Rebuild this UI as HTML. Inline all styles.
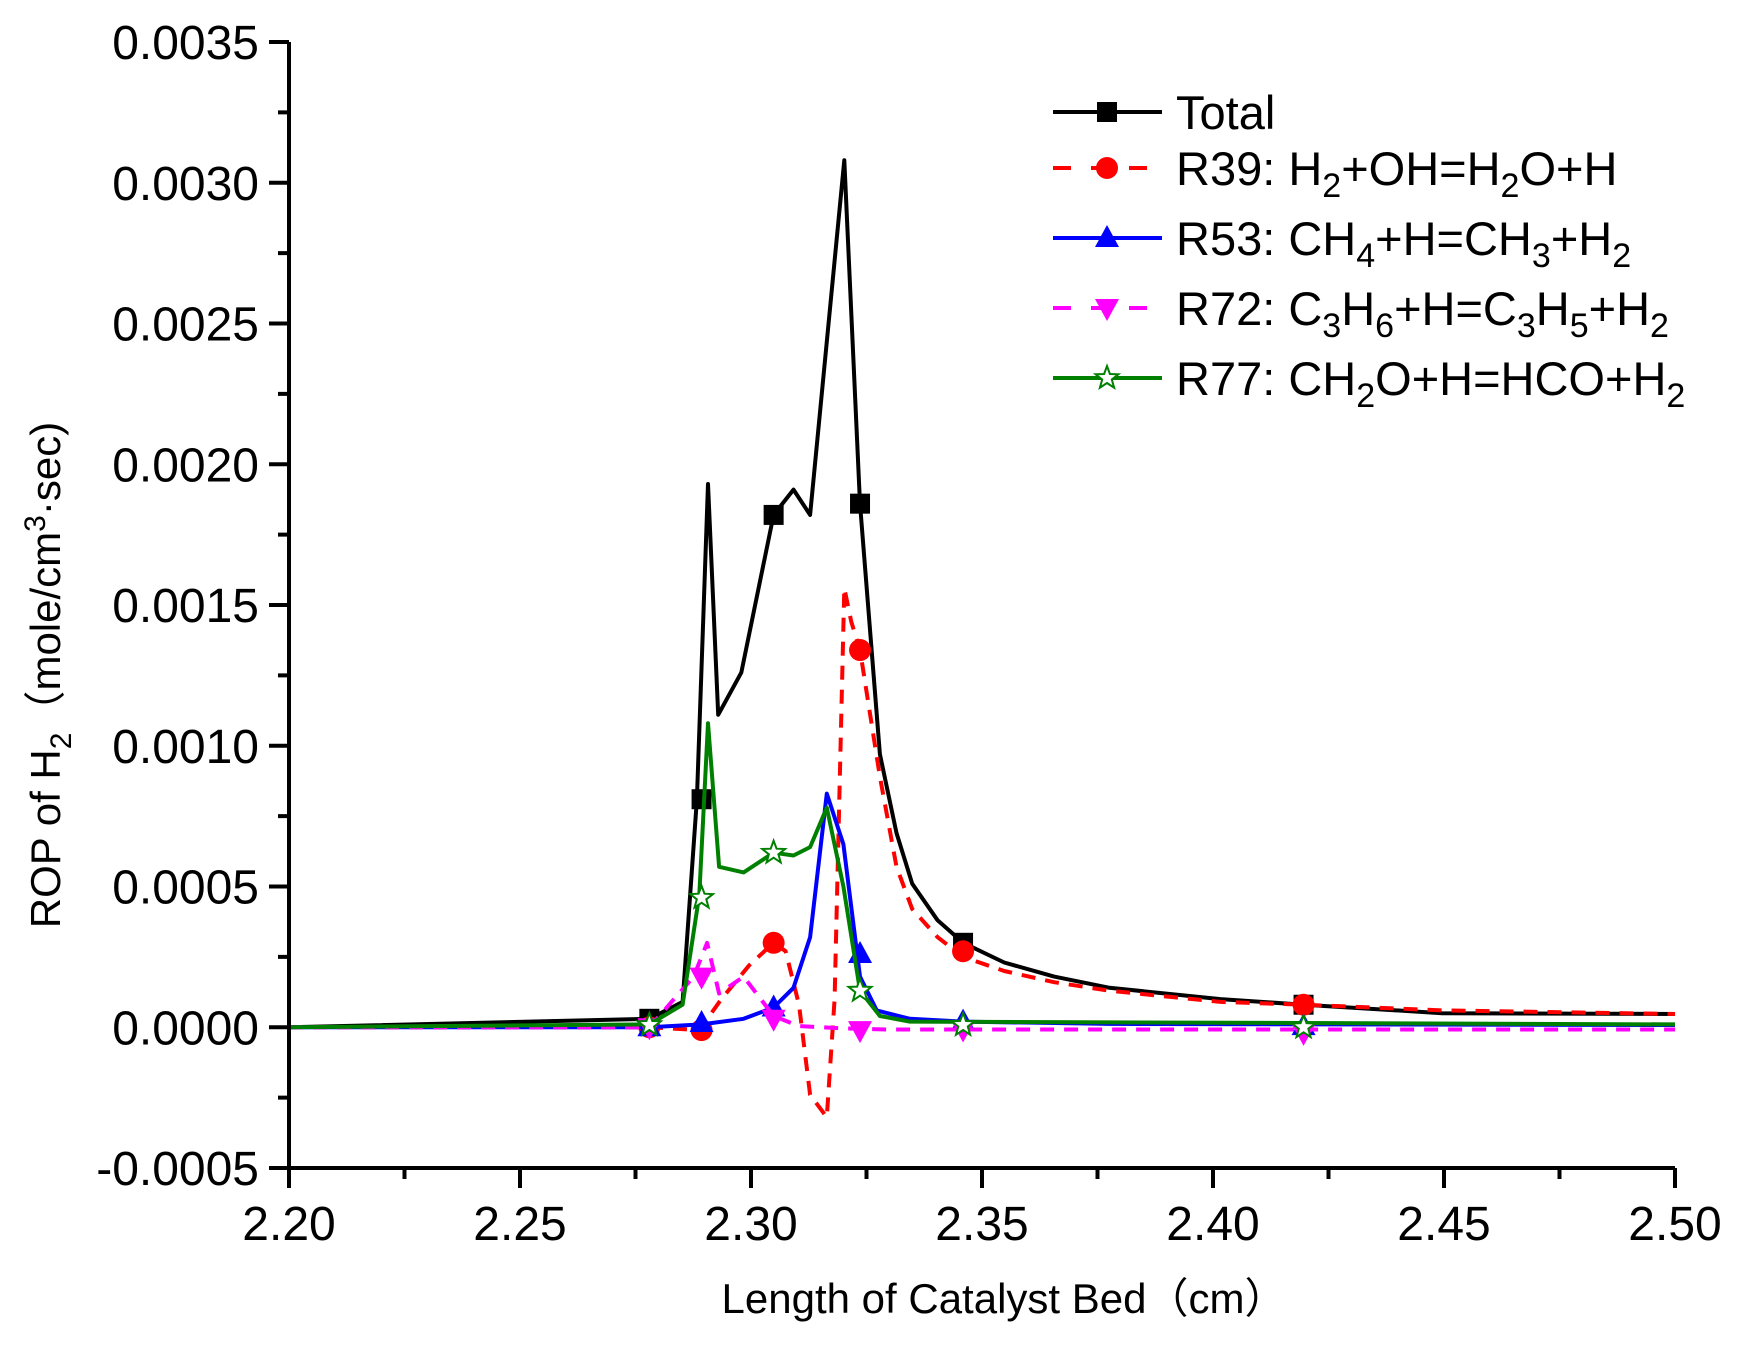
<!DOCTYPE html>
<html><head><meta charset="utf-8"><style>
html,body{margin:0;padding:0;background:#fff;}
svg{display:block;font-family:"Liberation Sans",Arial,sans-serif;}
</style></head><body>
<svg id="chart" width="1740" height="1345" viewBox="0 0 1740 1345" xmlns="http://www.w3.org/2000/svg">
<g id="grid"></g>
<g id="series"></g>
<g id="axes"></g>
<text x="1004" y="1313" font-size="42" text-anchor="middle">Length of Catalyst Bed（cm）</text>
<text transform="translate(60,675) rotate(-90)" font-size="42" text-anchor="middle">ROP of H<tspan font-size="30" dy="11">2</tspan><tspan dy="-11">（mole/cm</tspan><tspan font-size="30" dy="-15">3</tspan><tspan dy="15">·sec)</tspan></text>
<g id="legend"></g>
</svg>
<script>
const xTicks=[2.20,2.25,2.30,2.35,2.40,2.45,2.50];
const xTickLabels=["2.20","2.25","2.30","2.35","2.40","2.45","2.50"];
const yTicks=[-0.0005,0,0.0005,0.0010,0.0015,0.0020,0.0025,0.0030,0.0035];
const yTickLabels=["-0.0005","0.0000","0.0005","0.0010","0.0015","0.0020","0.0025","0.0030","0.0035"];

const totalX=[2.2,2.278,2.2852,2.2883,2.2907,2.2929,2.2979,2.3049,2.3092,2.3128,2.3202,2.3236,2.3279,2.3315,2.3349,2.3404,2.3459,2.3548,2.3656,2.3776,2.4016,2.4196,2.4496,2.5];
const totalY=[0,0.00003,0.00009,0.00081,0.00193,0.00111,0.00126,0.00182,0.00191,0.00182,0.00308,0.00186,0.00097,0.00069,0.00051,0.00038,0.00030,0.00023,0.00018,0.00014,0.00010,0.00008,0.00005,0.000047];
const r39X=[2.2,2.278,2.2888,2.2936,2.2996,2.3049,2.3075,2.3104,2.3128,2.3164,2.3181,2.3202,2.3217,2.3236,2.3279,2.3315,2.3349,2.3404,2.3459,2.3548,2.3656,2.3776,2.4016,2.4196,2.4496,2.5];
const r39Y=[0,0,-0.00001,0.0001,0.00022,0.0003,0.00027,0.00008,-0.00024,-0.00032,0.0001,0.00156,0.00144,0.00134,0.00089,0.00057,0.00042,0.00032,0.00025,0.0002,0.00016,0.00013,0.00009,0.00008,0.00006,0.000047];
const r53X=[2.2,2.278,2.2893,2.2984,2.3049,2.3092,2.3128,2.3164,2.32,2.3236,2.3272,2.3344,2.3459,2.3776,2.5];
const r53Y=[0,0,0.00001,0.00003,0.00007,0.00014,0.00032,0.00083,0.00065,0.00018,0.00006,0.00003,0.00002,0.000012,0.000008];
const r72X=[2.2,2.278,2.2876,2.2905,2.2931,2.2984,2.3049,2.3104,2.32,2.3296,2.5];
const r72Y=[0,0,0.00018,0.0003,0.00012,0.00018,0.00004,0.000004,-0.000004,-0.000008,-0.000008];
const r77X=[2.2,2.278,2.2852,2.2888,2.2907,2.2931,2.2984,2.3049,2.3092,2.3128,2.3164,2.32,2.3236,2.3279,2.3344,2.5];
const r77Y=[0,0.00001,0.00008,0.00047,0.00108,0.00057,0.00055,0.00062,0.00061,0.00064,0.00078,0.0005,0.00013,0.00004,0.00002,0.00001];

const mX=[2.278,2.2893,2.3049,2.3236,2.3459,2.4196];
const totalM=[0.00003,0.00081,0.00182,0.00186,0.0003,0.00008];
const r39M=[0,-0.00001,0.0003,0.00134,0.00027,0.00008];
const r53M=[0,0.000015,0.00007,0.00026,0.00002,0.000004];
const r72M=[0,0.00018,0.00003,-0.00001,-0.000008,-0.00002];
const r77M=[0.000008,0.00046,0.00062,0.00013,0.000008,0];

const L=289,R=1675,T=42,B=1168;
const xMin=2.2,xMax=2.5,yMin=-0.0005,yMax=0.0035;
function sx(v){return L+(v-xMin)/(xMax-xMin)*(R-L);}
function sy(v){return B-(v-yMin)/(yMax-yMin)*(B-T);}
const NS="http://www.w3.org/2000/svg";
function mk(tag,attrs,parent){const e=document.createElementNS(NS,tag);for(const k in attrs)e.setAttribute(k,attrs[k]);parent.appendChild(e);return e;}
const axes=document.getElementById('axes'),series=document.getElementById('series'),legend=document.getElementById('legend');

let a=mk('path',{d:`M${L},${T} L${L},${B} L${R},${B}`,fill:'none',stroke:'#000','stroke-width':4},axes);


xTicks.forEach((v,i)=>{
  const x=sx(v);
  const t=mk('line',{x1:x,x2:x,y1:B,y2:B+20,stroke:'#000','stroke-width':4},axes);
  
  
  if(i<xTicks.length-1){const xm=sx(v+0.025);const m=mk('line',{x1:xm,x2:xm,y1:B,y2:B+11,stroke:'#000','stroke-width':4},axes);
  
  }
  const lb=mk('text',{x:x,y:B+72,'font-size':48,'text-anchor':'middle'},axes);lb.textContent=xTickLabels[i];
  
  
});
yTicks.forEach((v,i)=>{
  const y=sy(v);
  const t=mk('line',{x1:L-20,x2:L,y1:y,y2:y,stroke:'#000','stroke-width':4},axes);
  
  
  if(i<yTicks.length-1){const ym=sy(v+0.00025);const m=mk('line',{x1:L-11,x2:L,y1:ym,y2:ym,stroke:'#000','stroke-width':4},axes);
  
  }
  const lb=mk('text',{x:L-30,y:y+17,'font-size':48,'text-anchor':'end'},axes);lb.textContent=yTickLabels[i];
  
  
});

function marker(kind,x,y,color,parent){
  let e;
  if(kind==='square')e=mk('rect',{x:x-10,y:y-10,width:20,height:20,fill:color},parent);
  else if(kind==='circle')e=mk('circle',{cx:x,cy:y,r:11,fill:color},parent);
  else if(kind==='up')e=mk('polygon',{points:`${x},${y-13} ${x+12},${y+9} ${x-12},${y+9}`,fill:color},parent);
  else if(kind==='down')e=mk('polygon',{points:`${x},${y+13} ${x+12},${y-9} ${x-12},${y-9}`,fill:color},parent);
  else{let p=[];for(let k=0;k<10;k++){const r=k%2?5:12;const ang=-Math.PI/2+k*Math.PI/5;p.push((x+r*Math.cos(ang)).toFixed(1)+','+(y+r*Math.sin(ang)).toFixed(1));}
    e=mk('polygon',{points:p.join(' '),fill:'#fff',stroke:color,'stroke-width':2},parent);}
  return e;
}
const S='<tspan font-size="34" dy="12">', E='</tspan><tspan dy="-12">';
const defs=[
 {name:'total',xs:totalX,ys:totalY,ms:totalM,color:'#000',dash:'',kind:'square',label:'Total'},
 {name:'r39',xs:r39X,ys:r39Y,ms:r39M,color:'#ff0000',dash:'14,10',kind:'circle',label:'R39: H'+S+'2'+E+'+OH=H</tspan>'+S+'2'+E+'O+H</tspan>'},
 {name:'r53',xs:r53X,ys:r53Y,ms:r53M,color:'#0000ff',dash:'',kind:'up',label:'R53: CH'+S+'4'+E+'+H=CH</tspan>'+S+'3'+E+'+H</tspan>'+S+'2</tspan>'},
 {name:'r72',xs:r72X,ys:r72Y,ms:r72M,color:'#ff00ff',dash:'14,10',kind:'down',label:'R72: C'+S+'3'+E+'H</tspan>'+S+'6'+E+'+H=C</tspan>'+S+'3'+E+'H</tspan>'+S+'5'+E+'+H</tspan>'+S+'2</tspan>'},
 {name:'r77',xs:r77X,ys:r77Y,ms:r77M,color:'#008000',dash:'',kind:'star',label:'R77: CH'+S+'2'+E+'O+H=HCO+H</tspan>'+S+'2</tspan>'}
];
const legY=[112,168,238,308,378];
defs.forEach((d,i)=>{
  const g=mk('g',{},series);
  
  
  const pts=d.xs.map((x,j)=>sx(x).toFixed(1)+','+sy(d.ys[j]).toFixed(1)).join(' ');
  const pl=mk('polyline',{points:pts,fill:'none',stroke:d.color,'stroke-width':4,'stroke-dasharray':d.dash||'none','stroke-linejoin':'round'},g);
  
  
  mX.forEach((x,j)=>{const m=marker(d.kind,sx(x),sy(d.ms[j]),d.color,g);
    
    });
  const lg=mk('g',{},legend);
  
  
  const y=legY[i];
  mk('line',{x1:1053,x2:1162,y1:y,y2:y,stroke:d.color,'stroke-width':4,'stroke-dasharray':d.dash?'18,20':'none'},lg);
  marker(d.kind,1107,y,d.color,lg);
  const t=mk('text',{x:1176,y:y+17,'font-size':47},lg);
  t.innerHTML=d.label;
});
</script>
</body></html>
